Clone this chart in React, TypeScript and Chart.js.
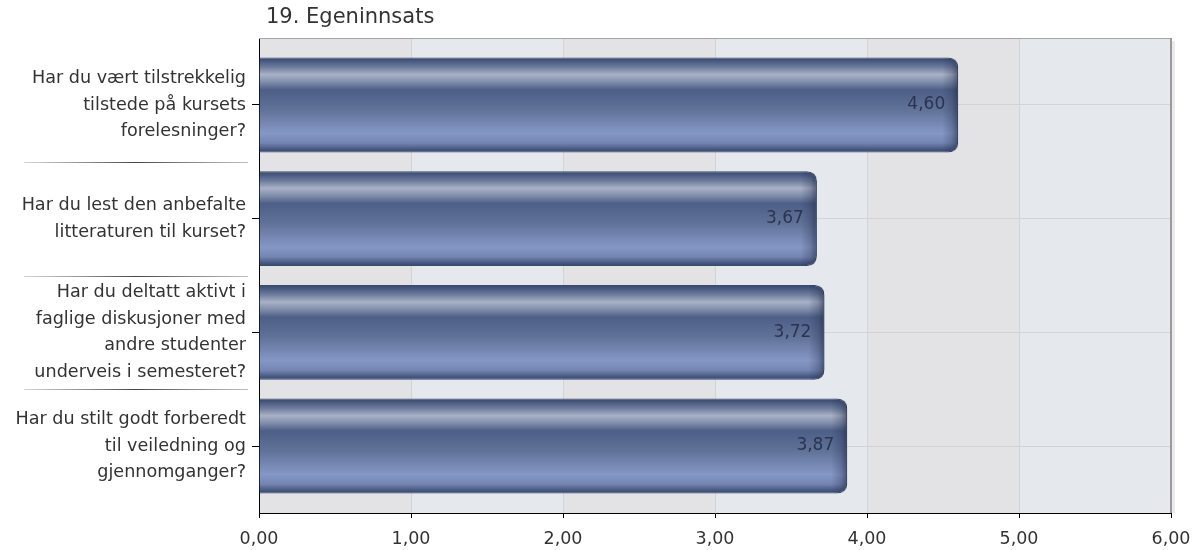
import React, { useEffect, useRef } from "react";
import { Chart, registerables } from "chart.js";

Chart.register(...registerables);

const chartTitle = "19. Egeninnsats";
const categoryLabels: string[][] = [
  ["Har du vært tilstrekkelig", "tilstede på kursets", "forelesninger?"],
  ["Har du lest den anbefalte", "litteraturen til kurset?"],
  ["Har du deltatt aktivt i", "faglige diskusjoner med", "andre studenter", "underveis i semesteret?"],
  ["Har du stilt godt forberedt", "til veiledning og", "gjennomganger?"],
];
const scoreValues: number[] = [4.6, 3.67, 3.72, 3.87];
const xTickValues: number[] = [0, 1, 2, 3, 4, 5, 6];

const X_MIN = 0;
const X_MAX = 6;
const BAR_FRACTION = 0.835;
const FONT = "'DejaVu Sans', 'Liberation Sans', Arial, sans-serif";

const fmt = (v: number) => Number(v).toFixed(2).replace(".", ",");

const barFill = (c: any) => {
  const chart = c.chart;
  const ys = chart.scales && chart.scales.y;
  if (!ys || c.dataIndex === undefined || !chart.chartArea) return "#5b6d97";
  const center = ys.getPixelForValue(c.dataIndex);
  const unit = Math.abs(ys.getPixelForValue(1) - ys.getPixelForValue(0));
  const half = (unit * BAR_FRACTION) / 2;
  const g = chart.ctx.createLinearGradient(0, center - half, 0, center + half);
  g.addColorStop(0, "#34456a");
  g.addColorStop(0.04, "#4a5a80");
  g.addColorStop(0.1, "#6c7b9c");
  g.addColorStop(0.18, "#a9b1c5");
  g.addColorStop(0.26, "#7f8dab");
  g.addColorStop(0.34, "#4e5f87");
  g.addColorStop(0.55, "#617299");
  g.addColorStop(0.8, "#8597c4");
  g.addColorStop(0.9, "#7485b2");
  g.addColorStop(0.96, "#4b5c85");
  g.addColorStop(1, "#33446a");
  return g;
};

const decorPlugin = {
  id: "decor",
  beforeDraw(chart: any) {
    const { ctx, chartArea: a, scales } = chart;
    const xs = scales.x;
    const ys = scales.y;
    ctx.save();
    for (let i = 0; i < xTickValues.length - 1; i++) {
      const x0 = xs.getPixelForValue(xTickValues[i]);
      const x1 = xs.getPixelForValue(xTickValues[i + 1]);
      ctx.fillStyle = i % 2 === 0 ? "#e3e3e5" : "#e5e9ee";
      ctx.fillRect(x0, a.top, x1 - x0, a.bottom - a.top);
    }
    ctx.fillStyle = "#333333";
    ctx.font = "21px " + FONT;
    ctx.textAlign = "left";
    ctx.textBaseline = "middle";
    ctx.fillText(chartTitle, a.left + 7, 18);
    for (let i = 0; i < categoryLabels.length - 1; i++) {
      const py = Math.round(ys.getPixelForValue(i + 0.5)) + 0.5;
      const g = ctx.createLinearGradient(24, 0, 248, 0);
      g.addColorStop(0, "rgba(110,110,110,0.3)");
      g.addColorStop(0.5, "rgba(60,60,60,0.95)");
      g.addColorStop(1, "rgba(110,110,110,0.45)");
      ctx.strokeStyle = g;
      ctx.lineWidth = 1;
      ctx.beginPath();
      ctx.moveTo(24, py);
      ctx.lineTo(248, py);
      ctx.stroke();
    }
    ctx.restore();
  },
  afterDatasetsDraw(chart: any) {
    const { ctx, chartArea: a } = chart;
    const meta = chart.getDatasetMeta(0);
    ctx.save();
    meta.data.forEach((el: any, i: number) => {
      const p = el.getProps(["x", "y", "base", "height"], true);
      const top = p.y - p.height / 2;
      const bottom = p.y + p.height / 2;
      const r = 10;
      ctx.save();
      ctx.beginPath();
      ctx.moveTo(p.base, top);
      ctx.lineTo(p.x - r, top);
      ctx.quadraticCurveTo(p.x, top, p.x, top + r);
      ctx.lineTo(p.x, bottom - r);
      ctx.quadraticCurveTo(p.x, bottom, p.x - r, bottom);
      ctx.lineTo(p.base, bottom);
      ctx.closePath();
      ctx.clip();
      const hg = ctx.createLinearGradient(p.x - 16, 0, p.x, 0);
      hg.addColorStop(0, "rgba(30,40,70,0)");
      hg.addColorStop(0.6, "rgba(30,40,70,0.25)");
      hg.addColorStop(1, "rgba(30,40,70,0.6)");
      ctx.fillStyle = hg;
      ctx.fillRect(p.x - 16, top, 16, bottom - top);
      ctx.restore();
      ctx.fillStyle = "#2a3350";
      ctx.font = "17px " + FONT;
      ctx.textAlign = "right";
      ctx.textBaseline = "middle";
      ctx.fillText(fmt(scoreValues[i]), p.x - 13, p.y);
    });
    ctx.strokeStyle = "#a6a6a6";
    ctx.lineWidth = 1;
    ctx.beginPath();
    ctx.moveTo(a.left, a.top + 0.5);
    ctx.lineTo(a.right, a.top + 0.5);
    ctx.stroke();
    ctx.strokeStyle = "#9a9a9a";
    ctx.lineWidth = 2;
    ctx.beginPath();
    ctx.moveTo(a.right, a.top);
    ctx.lineTo(a.right, a.bottom);
    ctx.stroke();
    ctx.strokeStyle = "rgba(0,0,0,0.08)";
    ctx.lineWidth = 3;
    ctx.beginPath();
    ctx.moveTo(a.right + 2.5, a.top + 3);
    ctx.lineTo(a.right + 2.5, a.bottom);
    ctx.stroke();
    ctx.restore();
  },
};

export default function App() {
  const canvasRef = useRef<HTMLCanvasElement | null>(null);

  useEffect(() => {
    document.body.style.margin = "0";
    const canvas = canvasRef.current;
    if (!canvas) return;
    const chart = new Chart(canvas, {
      type: "bar",
      data: {
        datasets: [
          {
            data: scoreValues.map((v, i) => ({ x: v, y: i })),
            backgroundColor: barFill,
            borderColor: "#3a4b70",
            borderWidth: 1,
            borderRadius: 10,
            borderSkipped: "start",
            categoryPercentage: BAR_FRACTION,
            barPercentage: 1,
          },
        ],
      },
      options: {
        indexAxis: "y",
        animation: false,
        responsive: false,
        maintainAspectRatio: false,
        layout: { padding: { top: 38, right: 28, left: 0, bottom: 0 } },
        plugins: {
          legend: { display: false },
          tooltip: { enabled: false },
          title: { display: false },
        },
        scales: {
          x: {
            type: "linear",
            position: "bottom",
            min: X_MIN,
            max: X_MAX,
            offset: false,
            afterBuildTicks: (s: any) => {
              s.ticks = xTickValues.map((v) => ({ value: v }));
            },
            afterFit: (s: any) => {
              s.height = 37;
              s.paddingLeft = 0;
              s.paddingRight = 0;
            },
            grid: {
              color: "#d3d3d3",
              tickColor: "#000000",
              tickLength: 5,
              lineWidth: 1,
              offset: false,
            },
            border: { display: true, color: "#000000", width: 1 },
            ticks: {
              color: "#333333",
              font: { family: FONT, size: 17.5 },
              padding: 11,
              autoSkip: false,
              maxRotation: 0,
              callback: (v: any) => fmt(v),
            },
          },
          y: {
            type: "linear",
            position: "left",
            reverse: true,
            min: -0.589,
            max: 3.589,
            offset: false,
            afterBuildTicks: (s: any) => {
              s.ticks = categoryLabels.map((_, i) => ({ value: i }));
            },
            afterFit: (s: any) => {
              s.width = 259;
              s.paddingTop = 0;
              s.paddingBottom = 0;
            },
            grid: {
              color: "#d3d3d3",
              tickColor: "#000000",
              tickLength: 7,
              lineWidth: 1,
              offset: false,
            },
            border: { display: true, color: "#000000", width: 1 },
            ticks: {
              color: "#333333",
              font: { family: FONT, size: 17.6, lineHeight: 1.52 },
              padding: 6,
              autoSkip: false,
              crossAlign: "near",
              callback: (v: any) => categoryLabels[Math.round(v)] ?? "",
            },
          },
        },
      },
      plugins: [decorPlugin],
    } as any);
    return () => chart.destroy();
  }, []);

  return (
    <div style={{ width: 1199, height: 550, background: "#ffffff" }}>
      <canvas ref={canvasRef} width={1199} height={550} style={{ display: "block" }} />
    </div>
  );
}
